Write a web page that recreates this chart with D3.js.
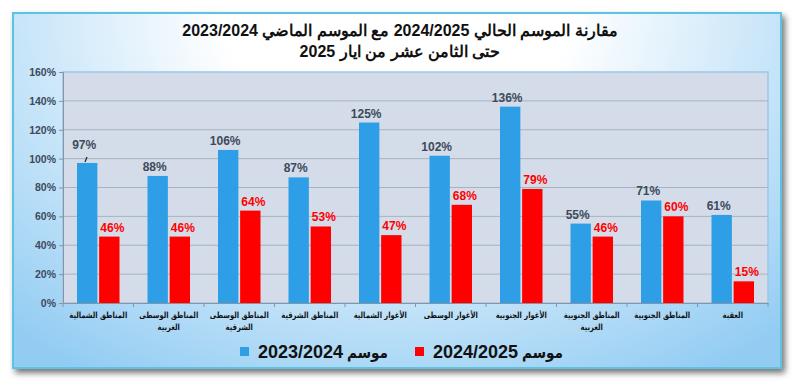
<!DOCTYPE html>
<html>
<head>
<meta charset="utf-8">
<script src="https://cdn.jsdelivr.net/npm/d3@7"></script>
<style>
  body { margin: 0; background: #ffffff; }
</style>
</head>
<body>
<div id="chart"></div>
<script>
// data
var regions = [
  ["المناطق الشمالية"],
  ["المناطق الوسطى", "الغربية"],
  ["المناطق الوسطى", "الشرقية"],
  ["المناطق الشرقية"],
  ["الأغوار الشمالية"],
  ["الأغوار الوسطى"],
  ["الأغوار الجنوبية"],
  ["المناطق الجنوبية", "الغربية"],
  ["المناطق الجنوبية"],
  ["العقبة"]
];
var season2324 = [97, 88, 106, 87, 125, 102, 136, 55, 71, 61];
var season2425 = [46, 46, 64, 53, 47, 68, 79, 46, 60, 15];
var seriesYears = ["2023/2024", "2024/2025"];
var seriesWord = "موسم";
var yTicks = [0, 20, 40, 60, 80, 100, 120, 140, 160];
var titleLines = ["مقارنة الموسم الحالي 2024/2025  مع الموسم الماضي  2023/2024", "حتى الثامن عشر من ايار 2025"];

var width = 793, height = 381;
var colors = ["#2e9fe6", "#ff0000"];
var labelColors = ["#3d4a5c", "#ff0000"];
var latin = "Liberation Sans, Arial, sans-serif";
var arabic = "DejaVu Sans, sans-serif";

var svg = d3.select("#chart").append("svg")
  .attr("width", width)
  .attr("height", height);

var defs = svg.append("defs");
var grad = defs.append("radialGradient")
  .attr("id", "bg")
  .attr("cx", "50%").attr("cy", "0%")
  .attr("r", "75%")
  .attr("gradientTransform", "translate(0.5,0) scale(1,1.6) translate(-0.5,0)");
grad.append("stop").attr("offset", "0%").attr("stop-color", "#ffffff");
grad.append("stop").attr("offset", "30%").attr("stop-color", "#ffffff");
grad.append("stop").attr("offset", "100%").attr("stop-color", "#92ccf3");

var shadow = defs.append("filter").attr("id", "shadow")
  .attr("x", "-5%").attr("y", "-5%").attr("width", "110%").attr("height", "115%");
shadow.append("feDropShadow")
  .attr("dx", 3).attr("dy", 4).attr("stdDeviation", 3)
  .attr("flood-color", "#000").attr("flood-opacity", 0.55);

// outer frame
svg.append("rect")
  .attr("x", 13).attr("y", 13)
  .attr("width", 768).attr("height", 355)
  .attr("fill", "url(#bg)")
  .attr("stroke", "#5cc3e3")
  .attr("stroke-width", 2)
  .attr("filter", "url(#shadow)");

// title
svg.selectAll(".title")
  .data(titleLines)
  .enter()
  .append("text")
  .attr("class", "title")
  .attr("x", 400)
  .attr("y", function (d, i) { return 36 + i * 21; })
  .attr("text-anchor", "middle")
  .attr("font-size", 16)
  .attr("font-weight", "bold")
  .attr("font-family", latin)
  .attr("fill", "#111")
  .text(function (d) { return d; });

var margin = { left: 63, right: 768, top: 72, bottom: 303 };

var x0 = d3.scaleBand()
  .domain(d3.range(regions.length))
  .range([margin.left, margin.right])
  .paddingInner(0)
  .paddingOuter(0);

var x1 = d3.scaleBand()
  .domain([0, 1])
  .range([14, x0.bandwidth() - 14])
  .paddingInner(0.08);

var y = d3.scaleLinear()
  .domain([0, 160])
  .range([margin.bottom, margin.top]);

// plot area
svg.append("rect")
  .attr("x", margin.left).attr("y", margin.top)
  .attr("width", margin.right - margin.left)
  .attr("height", margin.bottom - margin.top)
  .attr("fill", "#d3dce8")
  .attr("stroke", "#9cc6ea")
  .attr("stroke-width", 1.5);

// grid
svg.selectAll(".grid")
  .data(yTicks.slice(1, -1))
  .enter()
  .append("line")
  .attr("x1", margin.left).attr("x2", margin.right)
  .attr("y1", function (d) { return y(d); })
  .attr("y2", function (d) { return y(d); })
  .attr("stroke", "#a9b3bf")
  .attr("stroke-width", 1);

// y axis
var yAxis = svg.append("g")
  .attr("transform", "translate(" + margin.left + ",0)")
  .call(d3.axisLeft(y).tickValues(yTicks).tickSize(4).tickFormat(function (d) { return d + "%"; }));
yAxis.select(".domain").attr("stroke", "#8a939e");
yAxis.selectAll(".tick line").attr("stroke", "#8a939e");
yAxis.selectAll("text")
  .attr("font-size", 10.5)
  .attr("font-weight", "bold")
  .attr("fill", "#3d4a5c")
  .attr("font-family", latin);

// x axis
var xAxis = svg.append("g")
  .attr("transform", "translate(0," + margin.bottom + ")")
  .call(d3.axisBottom(x0).tickValues([]).tickSize(0));
xAxis.select(".domain").attr("stroke", "#8a939e");
svg.selectAll(".xtick")
  .data(d3.range(regions.length + 1))
  .enter()
  .append("line")
  .attr("x1", function (d) { return margin.left + d * x0.step(); })
  .attr("x2", function (d) { return margin.left + d * x0.step(); })
  .attr("y1", margin.bottom)
  .attr("y2", margin.bottom + 4)
  .attr("stroke", "#8a939e");

// bars
var groups = svg.selectAll(".group")
  .data(regions)
  .enter()
  .append("g")
  .attr("transform", function (d, i) { return "translate(" + x0(i) + ",0)"; });

[season2324, season2425].forEach(function (series, s) {
  groups.append("rect")
    .attr("x", x1(s))
    .attr("width", x1.bandwidth())
    .attr("y", function (d, i) { return y(series[i]); })
    .attr("height", function (d, i) { return y(0) - y(series[i]); })
    .attr("fill", colors[s]);

  groups.append("text")
    .attr("x", function (d, i) {
      return x1(s) + x1.bandwidth() / 2 + (s === 1 ? 3 : -3);
    })
    .attr("y", function (d, i) {
      var off = (s === 0 && i === 0) ? 14 : 5;
      return y(series[i]) - off;
    })
    .attr("text-anchor", "middle")
    .attr("font-size", 12)
    .attr("font-weight", "bold")
    .attr("font-family", latin)
    .attr("fill", labelColors[s])
    .text(function (d, i) { return series[i] + "%"; });
});

// leader line on the first label
svg.append("line")
  .attr("x1", x0(0) + x1(0) + 8).attr("x2", x0(0) + x1(0) + 10)
  .attr("y1", y(season2324[0]) - 1).attr("y2", y(season2324[0]) - 6)
  .attr("stroke", "#222").attr("stroke-width", 1.2);

// category labels
groups.append("text")
  .attr("transform", "translate(" + (x0.bandwidth() / 2) + ",318) scale(0.8,1)")
  .attr("text-anchor", "middle")
  .attr("direction", "rtl")
  .attr("font-size", 8.5)
  .attr("font-weight", "bold")
  .attr("font-family", arabic)
  .attr("fill", "#111")
  .each(function (d) {
    var t = d3.select(this);
    d.forEach(function (line, k) {
      t.append("tspan")
        .attr("x", 0)
        .attr("dy", k === 0 ? 0 : 12)
        .text(line);
    });
  });

// legend
var legendX = [240, 415];
var legend = svg.selectAll(".legend")
  .data(seriesYears)
  .enter()
  .append("g")
  .attr("transform", function (d, i) { return "translate(" + legendX[i] + ",358)"; });
legend.append("rect")
  .attr("x", 0).attr("y", -11)
  .attr("width", 9).attr("height", 9)
  .attr("fill", function (d, i) { return colors[i]; });
legend.append("text")
  .attr("x", 18)
  .attr("y", 0)
  .attr("font-size", 18)
  .attr("font-weight", "bold")
  .attr("font-family", latin)
  .attr("fill", "#111")
  .text(function (d) { return d; });
legend.append("text")
  .attr("transform", "translate(148,0) scale(0.85,1)")
  .attr("text-anchor", "end")
  .attr("font-size", 16)
  .attr("font-weight", "bold")
  .attr("font-family", arabic)
  .attr("fill", "#111")
  .text(seriesWord);
</script>
</body>
</html>
